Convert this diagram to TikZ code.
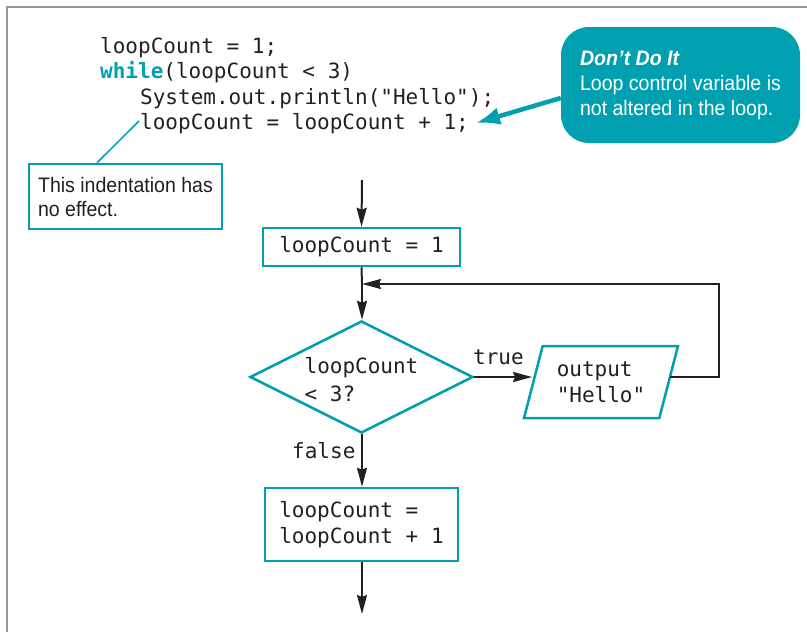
\documentclass[tikz,border=0pt]{standalone}
\usepackage{fontspec}
\setmainfont{Liberation Sans}[FakeStretch=0.93]
\setmonofont{DejaVu Sans Mono}
\usetikzlibrary{shapes.geometric,arrows.meta}
\definecolor{tealc}{RGB}{0,160,176}
\definecolor{ink}{RGB}{35,31,32}
\definecolor{framegray}{RGB}{151,151,155}
\tikzset{
  codetxt/.style={font=\ttfamily\fontsize{21}{26}\selectfont, text=ink, inner sep=0pt},
  flowbox/.style={draw=tealc, line width=2.5pt, fill=white, inner sep=0pt, align=left,
     font=\ttfamily\fontsize{21}{26}\selectfont, text=ink},
  arr/.style={draw=ink, line width=2pt, -{Stealth[length=19pt,width=10pt,inset=2pt]}},
  notebox/.style={draw=tealc, line width=2.5pt, fill=white, inner sep=0pt, align=left,
     font=\fontsize{21}{24}\selectfont, text=ink},
  calloutbox/.style={fill=tealc, rounded corners=28pt, inner sep=0pt, align=left,
     font=\fontsize{21}{25}\selectfont, text=white},
  lbl/.style={font=\ttfamily\fontsize{21}{26}\selectfont, text=ink, inner sep=0pt, anchor=base west}
}
\begin{document}
\begin{tikzpicture}[x=1pt,y=-1pt]
\useasboundingbox (0,0) rectangle (807,632);
% frame
\draw[framegray, line width=2pt] (7,632) -- (7,7) -- (807,7);
% code
\node[codetxt, anchor=base west] (c1) at (100,53) {loopCount = 1;};
\node[codetxt, anchor=base west] (c2) at (100,78) {\textcolor{tealc}{\bfseries while}(loopCount < 3)};
\node[codetxt, anchor=base west] (c3) at (140,104) {System.out.println("Hello");};
\node[codetxt, anchor=base west] (c4) at (140,129) {loopCount = loopCount + 1;};
% callout
\node[calloutbox, minimum width=239pt, minimum height=116pt] (callout) at (680.5,85)
  {\textbf{\textit{Don’t Do It}}\\Loop control variable is\\not altered in the loop.};
\coordinate (tip) at (476,123);
\draw[tealc, line width=4.5pt, -{Latex[length=24pt,width=18pt]}] ([yshift=-13pt]callout.west) -- (tip);
% note
\node[notebox, minimum width=193pt, minimum height=65pt] (note) at (125.5,196.5)
  {This indentation has\\no effect.};
\coordinate (noteend) at (139,121);
\draw[tealc, line width=1.5pt] ([xshift=-28.5pt]note.north) -- (noteend);
% flowchart
\coordinate (start) at (362,180);
\node[flowbox, minimum width=197pt, minimum height=38pt] (b1) at (361.5,247) {loopCount = 1};
\node[flowbox, shape=diamond, aspect=2, minimum width=223pt, minimum height=112pt,
  font=\ttfamily\fontsize{21}{28}\selectfont] (dia) at (361.5,377)
  {\rule{0pt}{21pt}loopCount\\< 3?};
\node[flowbox, shape=trapezium, trapezium left angle=71, trapezium right angle=109,
  trapezium stretches=true, minimum width=154pt, minimum height=72pt] (par) at (601,382)
  {output\\"Hello"};
\node[flowbox, minimum width=193pt, minimum height=73pt] (b2) at (361.5,524.5)
  {loopCount =\\loopCount + 1};
\coordinate (endpt) at (362,614);
\coordinate (loopR) at (719,284);
\coordinate (join) at (362,284);
\draw[arr] (start) -- (b1.north);
\draw[draw=ink, line width=2pt] (b1.south) -- (join);
\draw[arr] (join) -- (join |- dia.north);
\draw[arr] (dia.east) -- (dia.east -| par.west);
\draw[arr] (dia.east -| par.east) -| (loopR) -- (join);
\draw[arr] (dia.south -| join) -- (b2.north -| join);
\draw[arr] (b2.south -| join) -- (endpt);
\node[lbl] (ltrue) at (473,364) {true};
\node[lbl] (lfalse) at (292,458) {false};
\end{tikzpicture}
\end{document}
